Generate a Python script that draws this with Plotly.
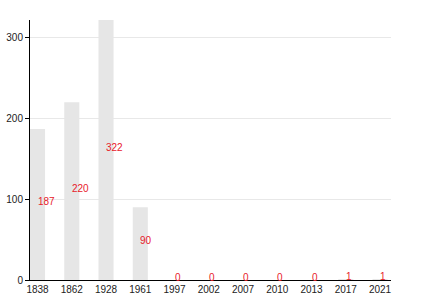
import plotly.graph_objects as go

years = ["1838", "1862", "1928", "1961", "1997", "2002", "2007", "2010", "2013", "2017", "2021"]
values = [187, 220, 322, 90, 0, 0, 0, 0, 0, 1, 1]
y_ticks = [0, 100, 200, 300]

fig = go.Figure()
fig.add_trace(go.Bar(x=list(range(len(years))), y=values, marker=dict(color="#e6e6e6", line=dict(width=0)),
                     width=0.44, hoverinfo="skip"))

for i, v in enumerate(values):
    fig.add_annotation(x=i, y=v / 2, text=str(v), showarrow=False, xanchor="left", xshift=-2, yshift=3,
                       font=dict(color="#e8202a", size=10, family="Liberation Sans, Arial, sans-serif"))

fig.update_layout(
    width=430, height=300,
    margin=dict(l=30, r=39, t=20, b=20, autoexpand=False),
    paper_bgcolor="white", plot_bgcolor="white",
    showlegend=False,
    font=dict(family="Liberation Sans, Arial, sans-serif", size=10, color="#222"),
)
fig.update_xaxes(range=[-0.22, 10.32], tickvals=list(range(len(years))), ticktext=years,
                 showline=True, linecolor="black", linewidth=1, automargin=False,
                 ticks="", showgrid=False, zeroline=False, tickfont=dict(size=10, color="#222"))
fig.update_yaxes(range=[0, 322], tickvals=y_ticks, showline=True, linecolor="black", linewidth=1,
                 ticks="outside", ticklen=4, tickcolor="black", showgrid=True, gridcolor="#e8e8e8",
                 zeroline=False, automargin=False, tickfont=dict(size=10, color="#222"))

fig.write_html("out.html")
